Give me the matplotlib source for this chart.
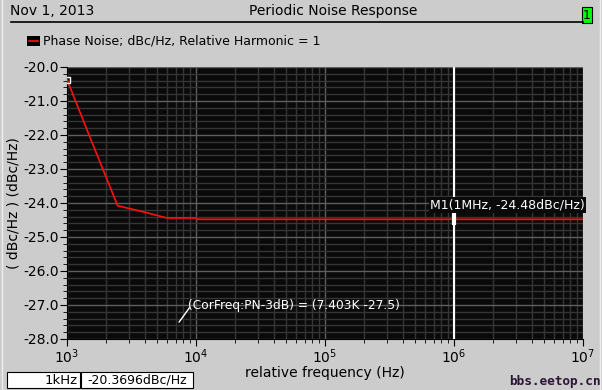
import matplotlib

matplotlib.use("Agg")

import matplotlib.pyplot as plt
from matplotlib.lines import Line2D
from matplotlib.patches import Rectangle
from matplotlib.ticker import FixedLocator, LogLocator, NullFormatter

# phase noise trace
freq_hz = [1.0e3, 1.5e3, 2.47e3, 4.0e3, 5.93e3, 1.0e4, 1.02e4, 1.0e5, 1.0e6, 1.0e7]
pn_dbc = [-20.37, -22.05, -24.08, -24.27, -24.44, -24.44, -24.48, -24.48, -24.48, -24.48]

marker_freq = 1.0e6
marker_val = -24.48
corner_freq = 7.403e3
corner_val = -27.5

y_ticks = [-20.0, -21.0, -22.0, -23.0, -24.0, -25.0, -26.0, -27.0, -28.0]
x_decades = [1e3, 1e4, 1e5, 1e6, 1e7]

BG = "#cccccc"
plt.rcParams["axes.unicode_minus"] = False
plt.rcParams["font.family"] = ["DejaVu Sans"]

fig = plt.figure(figsize=(6.02, 3.90), dpi=100, facecolor=BG)
ax = fig.add_axes([67 / 602, 51 / 390, 516 / 602, 272 / 390])
ax.set_facecolor("#0a0a0a")

ax.set_xscale("log")
ax.set_xlim(1e3, 1e7)
ax.set_ylim(-28.0, -20.0)

# grid: brighter majors, dim minors
ax.xaxis.set_major_locator(FixedLocator(x_decades))
ax.xaxis.set_minor_locator(LogLocator(base=10, subs=range(2, 10)))
ax.xaxis.set_minor_formatter(NullFormatter())
ax.yaxis.set_major_locator(FixedLocator(y_ticks))
ax.yaxis.set_minor_locator(FixedLocator([-28 + 0.2 * i for i in range(41)]))
ax.grid(True, which="major", color="#5e5e5e", linewidth=1.0)
ax.grid(True, which="minor", color="#353535", linewidth=1.0)
ax.set_axisbelow(True)

ax.set_yticklabels([f"{v:.1f}" for v in y_ticks], fontsize=10)
ax.set_xticklabels([r"$10^{%d}$" % e for e in range(3, 8)], fontsize=10)
ax.tick_params(which="major", direction="out", length=5, color="black", pad=1)
ax.tick_params(which="minor", direction="out", length=3, color="black")
for side in ("top", "right"):
    ax.spines[side].set_visible(False)
ax.spines["left"].set_color("black")
ax.spines["bottom"].set_color("black")

ax.set_xlabel("relative frequency (Hz)", fontsize=10, labelpad=0)
ax.set_ylabel("( dBc/Hz ) (dBc/Hz)", fontsize=10, labelpad=2)

# trace
ax.plot(freq_hz, pn_dbc, color="#ff1010", linewidth=1.2, zorder=3)
ax.plot([freq_hz[0]], [pn_dbc[0]], marker="s", markersize=5, markerfacecolor="none",
        markeredgecolor="white", markeredgewidth=1.0, zorder=4)

# M1 marker
ax.axvline(marker_freq, color="white", linewidth=1.5, zorder=4)
ax.plot([marker_freq, marker_freq], [marker_val + 0.12, marker_val - 0.12],
        color="white", linewidth=3, zorder=5)
ax.text(marker_freq / 1.53, marker_val + 0.22, f"M1(1MHz, {marker_val:.2f}dBc/Hz)",
        color="white", fontsize=9, ha="left", va="bottom", zorder=6,
        bbox=dict(facecolor="#0a0a0a", edgecolor="none", pad=1.0))

# corner-frequency annotation
ax.plot([corner_freq, 8.9e3], [corner_val, -27.08], color="white", linewidth=1.0, zorder=5)
ax.text(8.67e3, -27.0, f"(CorFreq:PN-3dB) = ({corner_freq / 1e3:.3f}K {corner_val})",
        color="white", fontsize=8.8, ha="left", va="center", zorder=6)

# header
fig.text(10 / 602, 1 - 11 / 390, "Nov 1, 2013", fontsize=10, ha="left", va="center")
fig.text(333 / 602, 1 - 11 / 390, "Periodic Noise Response", fontsize=10,
         ha="center", va="center")
fig.add_artist(Line2D([11 / 602, 583 / 602], [1 - 22 / 390, 1 - 22 / 390],
                      color="black", linewidth=1.2))
fig.patches.append(Rectangle((582 / 602, 1 - 23 / 390), 10 / 602, 16 / 390,
                             transform=fig.transFigure, facecolor="#00ff00",
                             edgecolor="black", linewidth=0.8))
fig.text(587 / 602, 1 - 15.5 / 390, "1", fontsize=9, ha="center", va="center")

# legend entry
fig.patches.append(Rectangle((27 / 602, 1 - 46 / 390), 13 / 602, 10 / 390,
                             transform=fig.transFigure, facecolor="black",
                             edgecolor="none"))
fig.add_artist(Line2D([29 / 602, 38 / 602], [1 - 41 / 390, 1 - 41 / 390],
                      color="#ff1010", linewidth=1.2))
fig.text(43 / 602, 1 - 41 / 390, "Phase Noise; dBc/Hz, Relative Harmonic = 1",
         fontsize=9, ha="left", va="center")

# readout boxes
fig.patches.append(Rectangle((7 / 602, 2 / 390), 73 / 602, 16 / 390,
                             transform=fig.transFigure, facecolor="white",
                             edgecolor="black", linewidth=0.8))
fig.patches.append(Rectangle((81 / 602, 2 / 390), 112 / 602, 16 / 390,
                             transform=fig.transFigure, facecolor="white",
                             edgecolor="black", linewidth=0.8))
fig.text(78 / 602, 10 / 390, "1kHz", fontsize=9.5, ha="right", va="center")
fig.text(137 / 602, 10 / 390, "-20.3696dBc/Hz", fontsize=9, ha="center", va="center")

# window frame
fig.add_artist(Line2D([2 / 602, 2 / 602], [0, 1], color="#eeeeee", linewidth=1))
fig.add_artist(Line2D([600 / 602, 600 / 602], [0, 1], color="#eeeeee", linewidth=1))

# watermark
fig.text(601 / 602, 9 / 390, "bbs.eetop.cn", fontsize=9.2, fontweight="bold",
         family="DejaVu Sans Mono", color="#2b1436", ha="right", va="center")

fig.savefig("out.png", dpi=100, facecolor=BG)
